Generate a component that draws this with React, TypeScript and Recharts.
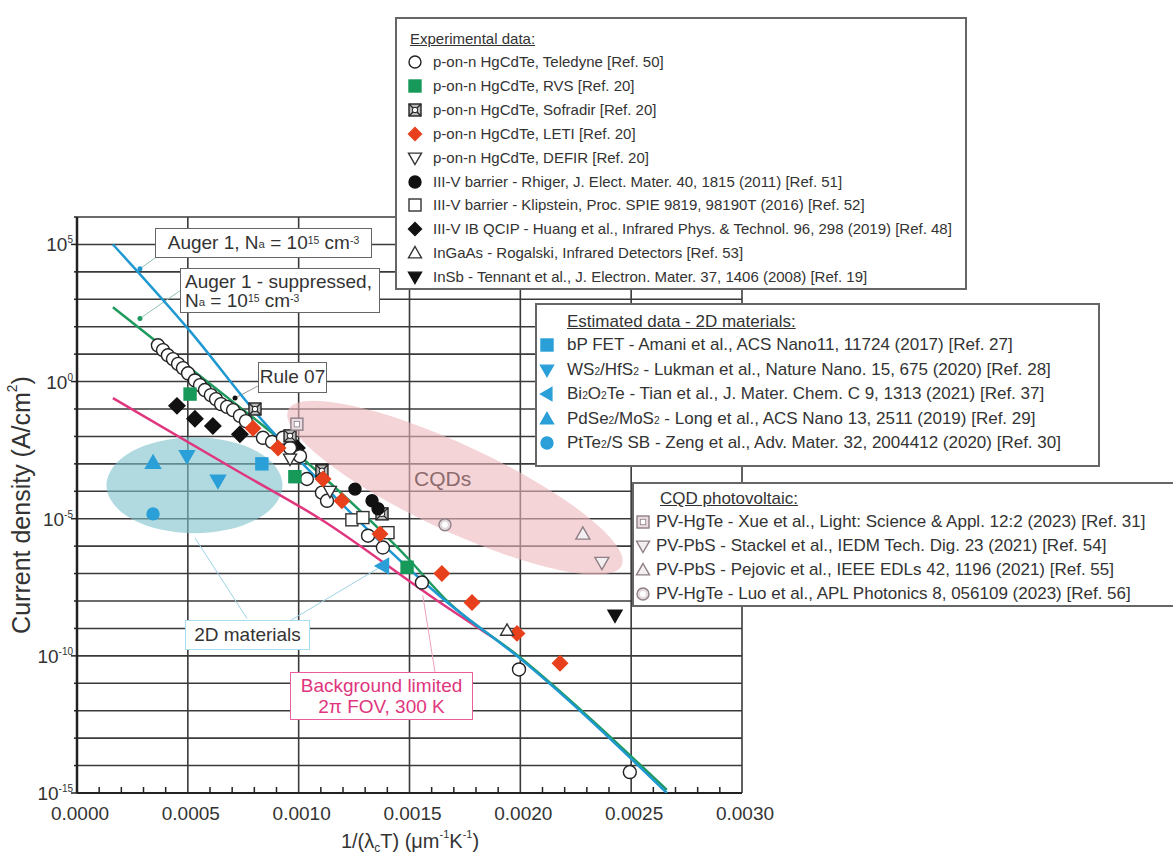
import React from 'react';
import {
  ScatterChart,
  Scatter,
  XAxis,
  YAxis,
  CartesianGrid,
  ReferenceLine,
  ReferenceDot,
} from 'recharts';

type Pt = { x: number; y: number };
const P = (x: number, y: number): Pt => ({ x, y });

// x: 1/(lambda_c T) [um^-1 K^-1], y: current density [A/cm^2]
const teledyne: Pt[] = [
  P(0.000365, 21), P(0.000388, 14), P(0.00041, 9.1), P(0.000433, 6.6), P(0.000456, 4.4),
  P(0.000478, 3.1), P(0.000501, 2.0), P(0.000532, 1.1), P(0.000555, 0.74), P(0.000577, 0.49),
  P(0.000604, 0.32), P(0.000627, 0.23), P(0.00065, 0.15), P(0.000677, 0.12), P(0.000704, 0.091),
  P(0.000735, 0.056), P(0.000762, 0.036), P(0.000839, 8.9e-3), P(0.00088, 6.3e-3), P(0.000929, 8.9e-3),
  P(0.000961, 3.8e-3), P(0.001006, 1.9e-3), P(0.001037, 2.8e-4), P(0.001105, 8.9e-5), P(0.001128, 4.5e-5),
  P(0.001313, 2.4e-6), P(0.00138, 8.9e-7), P(0.001556, 4.7e-8), P(0.001994, 3.2e-11), P(0.002494, 5.8e-15),
];
const rvs: Pt[] = [P(0.00051, 0.35), P(0.000983, 3.4e-4), P(0.001489, 1.7e-7)];
const sofradir: Pt[] = [P(0.000803, 0.1), P(0.000961, 0.0105), P(0.001105, 5.6e-4), P(0.001376, 1.5e-5)];
const leti: Pt[] = [
  P(0.000794, 0.02), P(0.000907, 3.8e-3), P(0.00111, 2.8e-4), P(0.001195, 4.5e-5), P(0.001367, 2.8e-6),
  P(0.001646, 1.0e-7), P(0.001782, 8.9e-9), P(0.001985, 6.6e-10), P(0.002179, 5.4e-11),
];
const defir: Pt[] = [P(0.000961, 1.5e-3), P(0.001141, 1.0e-4)];
const rhiger: Pt[] = [P(0.001254, 1.2e-4), P(0.001331, 4.5e-5), P(0.001358, 2.3e-5)];
const klipstein: Pt[] = [P(0.00124, 9.1e-6), P(0.00129, 1.1e-5), P(0.001403, 3.1e-6)];
const huang: Pt[] = [P(0.000451, 0.13), P(0.000532, 0.044), P(0.000613, 0.024), P(0.000735, 0.012), P(0.000992, 3.8e-3)];
const ingaas: Pt[] = [P(0.00194, 8.5e-10)];
const insb: Pt[] = [P(0.002427, 3.0e-9)];

const bpFet: Pt[] = [P(0.000834, 1.0e-3)];
const ws2: Pt[] = [P(0.000496, 1.9e-3), P(0.000636, 2.4e-4)];
const bi2o2te: Pt[] = [P(0.00138, 1.9e-7)];
const pdse2: Pt[] = [P(0.000343, 1.1e-3)];
const ptte2: Pt[] = [P(0.000343, 1.5e-5)];

const cqdXue: Pt[] = [P(0.000992, 0.028)];
const cqdStackel: Pt[] = [P(0.002368, 2.5e-7)];
const cqdPejovic: Pt[] = [P(0.002282, 2.8e-6)];
const cqdLuo: Pt[] = [P(0.00166, 6.0e-6)];

const auger1: Pt[] = [P(0.000162, 1e5), P(0.00051, 69), P(0.000839, 0.036), P(0.001019, 1e-3), P(0.00166, 1.05e-8), P(0.001998, 8.1e-11), P(0.002661, 1e-15)];
const augerSupp: Pt[] = [P(0.000162, 510), P(0.000555, 1.6), P(0.001006, 1.9e-3), P(0.001502, 3.0e-7), P(0.00166, 1.2e-8), P(0.001998, 8.9e-11), P(0.002661, 1.3e-15)];
const bgLimited: Pt[] = [P(0.000162, 0.25), P(0.000722, 5.6e-4), P(0.001096, 1e-5), P(0.001624, 1.05e-8), P(0.001876, 4.7e-10)];

const yTicks = [1e-15, 1e-14, 1e-13, 1e-12, 1e-11, 1e-10, 1e-9, 1e-8, 1e-7, 1e-6, 1e-5, 1e-4, 1e-3, 1e-2, 1e-1, 1, 1e1, 1e2, 1e3, 1e4, 1e5, 1e6];
const xMajor = [0, 0.0005, 0.001, 0.0015, 0.002, 0.0025, 0.003];
const xTicks = [0, 0.0001, 0.0002, 0.0003, 0.0004, 0.0005, 0.0006, 0.0007, 0.0008, 0.0009, 0.001, 0.0011, 0.0012, 0.0013, 0.0014, 0.0015,
  0.0016, 0.0017, 0.0018, 0.0019, 0.002, 0.0021, 0.0022, 0.0023, 0.0024, 0.0025, 0.0026, 0.0027, 0.0028, 0.0029, 0.003];

const FONT = '"Liberation Sans", Arial, Helvetica, sans-serif';
const BLUE2D = '#2a9fd8';
const CQD = '#8f7f87';

type Kind = 'circle' | 'square' | 'diamond' | 'up' | 'down' | 'left' | 'sofradir' | 'cqdsq' | 'cqdcirc';
interface MStyle { kind: Kind; size: number; fill: string; stroke: string }

const M: Record<string, MStyle> = {
  teledyne: { kind: 'circle', size: 14, fill: '#fff', stroke: '#222' },
  rvs: { kind: 'square', size: 12, fill: '#17995a', stroke: '#17995a' },
  sofradir: { kind: 'sofradir', size: 12, fill: '#fff', stroke: '#333' },
  leti: { kind: 'diamond', size: 15, fill: '#e8401c', stroke: '#e8401c' },
  defir: { kind: 'down', size: 13, fill: '#fff', stroke: '#333' },
  rhiger: { kind: 'circle', size: 13, fill: '#111', stroke: '#111' },
  klipstein: { kind: 'square', size: 12, fill: '#fff', stroke: '#333' },
  huang: { kind: 'diamond', size: 16, fill: '#111', stroke: '#111' },
  ingaas: { kind: 'up', size: 13, fill: '#fff', stroke: '#333' },
  insb: { kind: 'down', size: 14, fill: '#111', stroke: '#111' },
  bp: { kind: 'square', size: 12, fill: BLUE2D, stroke: BLUE2D },
  ws2: { kind: 'down', size: 15, fill: BLUE2D, stroke: BLUE2D },
  bi: { kind: 'left', size: 15, fill: BLUE2D, stroke: BLUE2D },
  pd: { kind: 'up', size: 15, fill: BLUE2D, stroke: BLUE2D },
  pt: { kind: 'circle', size: 13, fill: BLUE2D, stroke: BLUE2D },
  xue: { kind: 'cqdsq', size: 12, fill: '#e8dce0', stroke: CQD },
  stackel: { kind: 'down', size: 14, fill: '#f3eef0', stroke: CQD },
  pejovic: { kind: 'up', size: 14, fill: '#f3eef0', stroke: CQD },
  luo: { kind: 'cqdcirc', size: 13, fill: '#e3dade', stroke: CQD },
};

function drawMarker(st: MStyle, cx: number, cy: number) {
  const h = st.size / 2;
  const common = { fill: st.fill, stroke: st.stroke, strokeWidth: 1.4 };
  switch (st.kind) {
    case 'circle':
      return <circle cx={cx} cy={cy} r={h - 0.5} {...common} />;
    case 'square':
      return <rect x={cx - h} y={cy - h} width={st.size} height={st.size} {...common} />;
    case 'diamond':
      return <polygon points={`${cx},${cy - h} ${cx + h},${cy} ${cx},${cy + h} ${cx - h},${cy}`} {...common} />;
    case 'up':
      return <polygon points={`${cx},${cy - h} ${cx + h},${cy + h * 0.75} ${cx - h},${cy + h * 0.75}`} {...common} />;
    case 'down':
      return <polygon points={`${cx},${cy + h} ${cx + h},${cy - h * 0.75} ${cx - h},${cy - h * 0.75}`} {...common} />;
    case 'left':
      return <polygon points={`${cx - h},${cy} ${cx + h * 0.75},${cy - h} ${cx + h * 0.75},${cy + h}`} {...common} />;
    case 'sofradir':
      return (
        <g>
          <rect x={cx - h} y={cy - h} width={st.size} height={st.size} fill="#bbb" stroke="#222" strokeWidth={1.4} />
          <line x1={cx - h} y1={cy - h} x2={cx + h} y2={cy + h} stroke="#222" strokeWidth={1.3} />
          <line x1={cx + h} y1={cy - h} x2={cx - h} y2={cy + h} stroke="#222" strokeWidth={1.3} />
          <circle cx={cx} cy={cy} r={h * 0.45} fill="#fff" stroke="#222" strokeWidth={1} />
        </g>
      );
    case 'cqdsq':
      return (
        <g>
          <rect x={cx - h} y={cy - h} width={st.size} height={st.size} {...common} />
          <rect x={cx - h * 0.45} y={cy - h * 0.45} width={h * 0.9} height={h * 0.9} fill="#fff" stroke={st.stroke} strokeWidth={0.8} />
        </g>
      );
    case 'cqdcirc':
      return (
        <g>
          <circle cx={cx} cy={cy} r={h - 0.5} {...common} />
          <circle cx={cx} cy={cy} r={h * 0.45} fill="#fff" stroke="none" />
        </g>
      );
  }
  return <g />;
}

const shapeOf = (st: MStyle) => (p: any) => drawMarker(st, p.cx, p.cy);
const noShape = () => <g />;

const YTick = (props: any) => {
  const { x, y, payload } = props;
  const e = Math.round(Math.log10(payload.value));
  const major = e % 5 === 0;
  return (
    <g>
      <line x1={x - (major ? 6 : 3)} x2={x} y1={y} y2={y} stroke="#222" strokeWidth={1.5} />
      {major && (
        <text x={x - 4} y={y + 7} textAnchor="end" fontSize={19} fontFamily={FONT} fill="#333">
          10<tspan dy={-8} fontSize={10}>{e}</tspan>
        </text>
      )}
    </g>
  );
};

const XTick = (props: any) => {
  const { x, y, payload } = props;
  const v = payload.value as number;
  const major = xMajor.some((m) => Math.abs(m - v) < 1e-9);
  return (
    <g>
      {!major && <line x1={x} x2={x} y1={y - 6} y2={y} stroke="#222" strokeWidth={1.5} />}
      {major && (
        <text x={x + 3} y={y + 27} textAnchor="middle" fontSize={19} fontFamily={FONT} fill="#333">
          {v.toFixed(4)}
        </text>
      )}
    </g>
  );
};

const ellipse = (rx: number, ry: number, angle: number, fill: string, opacity: number) => (p: any) => (
  <ellipse cx={p.cx} cy={p.cy} rx={rx} ry={ry} fill={fill} fillOpacity={opacity} transform={`rotate(${angle} ${p.cx} ${p.cy})`} />
);

const box = (extra: React.CSSProperties): React.CSSProperties => ({
  position: 'absolute',
  background: '#fff',
  boxSizing: 'border-box',
  fontFamily: FONT,
  color: '#333',
  ...extra,
});

const sup: React.CSSProperties = { fontSize: '0.55em', verticalAlign: 'top', position: 'relative', top: -2 };
const sub: React.CSSProperties = { fontSize: '0.6em', verticalAlign: 'bottom', position: 'relative', top: 2 };

interface Row { m: MStyle; text: React.ReactNode }

const expRows: Row[] = [
  { m: M.teledyne, text: 'p-on-n HgCdTe, Teledyne [Ref. 50]' },
  { m: M.rvs, text: 'p-on-n HgCdTe, RVS [Ref. 20]' },
  { m: M.sofradir, text: 'p-on-n HgCdTe, Sofradir [Ref. 20]' },
  { m: M.leti, text: 'p-on-n HgCdTe, LETI [Ref. 20]' },
  { m: M.defir, text: 'p-on-n HgCdTe, DEFIR [Ref. 20]' },
  { m: M.rhiger, text: 'III-V barrier -  Rhiger, J. Elect. Mater. 40, 1815 (2011) [Ref. 51]' },
  { m: M.klipstein, text: 'III-V barrier -  Klipstein, Proc. SPIE 9819, 98190T (2016) [Ref. 52]' },
  { m: M.huang, text: 'III-V IB QCIP -  Huang et al., Infrared Phys. & Technol. 96, 298 (2019) [Ref. 48]' },
  { m: M.ingaas, text: 'InGaAs -  Rogalski, Infrared Detectors [Ref. 53]' },
  { m: M.insb, text: 'InSb -  Tennant et al., J. Electron. Mater. 37, 1406 (2008) [Ref. 19]' },
];

const s2 = <span style={sub}>2</span>;
const twoDRows: Row[] = [
  { m: M.bp, text: 'bP FET - Amani et al., ACS Nano11, 11724 (2017) [Ref. 27]' },
  { m: M.ws2, text: <>WS{s2}/HfS{s2} - Lukman et al., Nature Nano. 15, 675 (2020) [Ref. 28]</> },
  { m: M.bi, text: <>Bi{s2}O{s2}Te - Tian et al., J. Mater. Chem. C 9, 1313 (2021) [Ref. 37]</> },
  { m: M.pd, text: <>PdSe{s2}/MoS{s2} - Long et al., ACS Nano 13, 2511 (2019) [Ref. 29]</> },
  { m: M.pt, text: <>PtTe{s2}/S SB - Zeng et al., Adv. Mater. 32, 2004412 (2020) [Ref. 30]</> },
];

const cqdRows: Row[] = [
  { m: M.xue, text: 'PV-HgTe - Xue et al., Light: Science & Appl. 12:2 (2023) [Ref. 31]' },
  { m: M.stackel, text: 'PV-PbS - Stackel et al., IEDM Tech. Dig. 23 (2021) [Ref. 54]' },
  { m: M.pejovic, text: 'PV-PbS - Pejovic et al., IEEE EDLs 42, 1196 (2021) [Ref. 55]' },
  { m: M.luo, text: 'PV-HgTe - Luo et al., APL Photonics 8, 056109 (2023) [Ref. 56]' },
];

function LegendBox(props: {
  left: number; top: number; width: number; height: number; title: string; fontSize: number;
  rows: Row[]; titleX: number; titleY: number; rowY: number; step: number; markX: number; textX: number;
}) {
  const { left, top, width, height, title, fontSize, rows, titleX, titleY, rowY, step, markX, textX } = props;
  return (
    <div style={box({ left, top, width, height, border: '2px solid #666', fontSize })}>
      <div style={{ position: 'absolute', left: titleX, top: titleY - 10, lineHeight: '20px', textDecoration: 'underline', whiteSpace: 'nowrap' }}>
        {title}
      </div>
      {rows.map((r, i) => (
        <div key={i} style={{ position: 'absolute', left: 0, top: rowY + i * step - 10, height: 20, width: '100%' }}>
          <svg width={20} height={20} style={{ position: 'absolute', left: markX - 10, top: 0 }}>
            {drawMarker({ ...r.m, size: Math.min(r.m.size, 13) }, 10, 10)}
          </svg>
          <div style={{ position: 'absolute', left: textX, top: 0, lineHeight: '20px', whiteSpace: 'nowrap' }}>{r.text}</div>
        </div>
      ))}
    </div>
  );
}

export default function App() {
  return (
    <div style={{ position: 'absolute', left: 0, top: 0, width: 1173, height: 855, background: '#fff', overflow: 'hidden' }}>
      <ScatterChart width={1173} height={855} margin={{ top: 217, right: 431, bottom: 22, left: 7 }}>
        <CartesianGrid vertical={false} stroke="#3a3a3a" strokeWidth={1.6} />
        <XAxis
          type="number"
          dataKey="x"
          domain={[0, 0.003]}
          ticks={xTicks}
          interval={0}
          tick={<XTick />}
          tickLine={false}
          tickSize={0}
          tickMargin={0}
          height={40}
          stroke="#222"
          strokeWidth={2}
          allowDataOverflow
        />
        <YAxis
          type="number"
          dataKey="y"
          scale="log"
          domain={[1e-15, 1e6]}
          ticks={yTicks}
          interval={0}
          tick={<YTick />}
          tickLine={false}
          tickSize={0}
          tickMargin={0}
          width={70}
          stroke="#222"
          strokeWidth={2.5}
          allowDataOverflow
        />
        {xMajor.slice(1).map((v) => (
          <ReferenceLine key={v} x={v} stroke="#3a3a3a" strokeWidth={1.6} />
        ))}

        <ReferenceDot x={0.00053} y={1.66e-4} r={1} shape={ellipse(88, 48, 0, '#7cc1c9', 0.6)} ifOverflow="visible" />
        <ReferenceDot x={0.001705} y={1.35e-4} r={1} shape={ellipse(184, 43, 25, '#eeb7be', 0.6)} ifOverflow="visible" />

        <ReferenceLine segment={[{ x: 0.000361, y: 3.6e4 }, { x: 0.000284, y: 1.3e4 }]} stroke="#8fc3b4" strokeWidth={1} />
        <ReferenceLine segment={[{ x: 0.000474, y: 2.3e3 }, { x: 0.000284, y: 2.0e2 }]} stroke="#8fc3b4" strokeWidth={1} />
        <ReferenceLine segment={[{ x: 0.000532, y: 2.0e-6 }, { x: 0.000767, y: 2.3e-9 }]} stroke="#9ed3e6" strokeWidth={1} />
        <ReferenceLine segment={[{ x: 0.001367, y: 1.7e-7 }, { x: 0.000961, y: 1.9e-9 }]} stroke="#9ed3e6" strokeWidth={1} />
        <ReferenceLine segment={[{ x: 0.00156, y: 1.6e-8 }, { x: 0.001615, y: 2.5e-11 }]} stroke="#f0a0c0" strokeWidth={1} />
        <ReferenceLine segment={[{ x: 0.000816, y: 0.69 }, { x: 0.000713, y: 0.25 }]} stroke="#999" strokeWidth={1} />

        <Scatter data={bgLimited} line={{ stroke: '#e0367e', strokeWidth: 2.5 }} lineJointType="monotoneX" shape={noShape} isAnimationActive={false} />
        <Scatter data={augerSupp} line={{ stroke: '#1f9a5e', strokeWidth: 2.5 }} lineJointType="monotoneX" shape={noShape} isAnimationActive={false} />
        <Scatter data={auger1} line={{ stroke: '#1f98d2', strokeWidth: 2.5 }} lineJointType="monotoneX" shape={noShape} isAnimationActive={false} />

        <ReferenceDot x={0.000284} y={1.3e4} r={2.5} fill="#1f98d2" stroke="none" />
        <ReferenceDot x={0.000284} y={2.0e2} r={2.5} fill="#1f9a5e" stroke="none" />
        <ReferenceDot x={0.000713} y={0.25} r={2.5} fill="#111" stroke="none" />

        <Scatter data={huang} shape={shapeOf(M.huang)} isAnimationActive={false} />
        <Scatter data={teledyne} shape={shapeOf(M.teledyne)} isAnimationActive={false} />
        <Scatter data={rvs} shape={shapeOf(M.rvs)} isAnimationActive={false} />
        <Scatter data={sofradir} shape={shapeOf(M.sofradir)} isAnimationActive={false} />
        <Scatter data={defir} shape={shapeOf(M.defir)} isAnimationActive={false} />
        <Scatter data={rhiger} shape={shapeOf(M.rhiger)} isAnimationActive={false} />
        <Scatter data={klipstein} shape={shapeOf(M.klipstein)} isAnimationActive={false} />
        <Scatter data={leti} shape={shapeOf(M.leti)} isAnimationActive={false} />
        <Scatter data={ingaas} shape={shapeOf(M.ingaas)} isAnimationActive={false} />
        <Scatter data={insb} shape={shapeOf(M.insb)} isAnimationActive={false} />
        <Scatter data={bpFet} shape={shapeOf(M.bp)} isAnimationActive={false} />
        <Scatter data={ws2} shape={shapeOf(M.ws2)} isAnimationActive={false} />
        <Scatter data={bi2o2te} shape={shapeOf(M.bi)} isAnimationActive={false} />
        <Scatter data={pdse2} shape={shapeOf(M.pd)} isAnimationActive={false} />
        <Scatter data={ptte2} shape={shapeOf(M.pt)} isAnimationActive={false} />
        <Scatter data={cqdXue} shape={shapeOf(M.xue)} isAnimationActive={false} />
        <Scatter data={cqdStackel} shape={shapeOf(M.stackel)} isAnimationActive={false} />
        <Scatter data={cqdPejovic} shape={shapeOf(M.pejovic)} isAnimationActive={false} />
        <Scatter data={cqdLuo} shape={shapeOf(M.luo)} isAnimationActive={false} />
      </ScatterChart>

      {/* axis titles */}
      <div style={{ position: 'absolute', left: 300, width: 220, top: 830, textAlign: 'center', fontFamily: FONT, fontSize: 20, color: '#333', whiteSpace: 'nowrap' }}>
        1/(λ<span style={sub}>c</span>T) (μm<span style={sup}>-1</span>K<span style={sup}>-1</span>)
      </div>
      <div style={{ position: 'absolute', left: 22 - 170, top: 505 - 15, width: 340, height: 30, textAlign: 'center', fontFamily: FONT, fontSize: 25, color: '#333', transform: 'rotate(-90deg)', whiteSpace: 'nowrap' }}>
        Current density (A/cm<span style={sup}>2</span>)
      </div>

      {/* annotations */}
      <div style={box({ left: 155, top: 228, width: 217, height: 30, border: '1.5px solid #666', fontSize: 19, lineHeight: '27px', textAlign: 'center', whiteSpace: 'nowrap' })}>
        Auger 1, N<span style={sub}>a</span> = 10<span style={sup}>15</span> cm<span style={sup}>-3</span>
      </div>
      <div style={box({ left: 180, top: 268, width: 200, height: 45, border: '1.5px solid #666', fontSize: 19, lineHeight: '19px', padding: '3px 0 0 4px', whiteSpace: 'nowrap' })}>
        Auger 1 - suppressed,<br />N<span style={sub}>a</span> = 10<span style={sup}>15</span> cm<span style={sup}>-3</span>
      </div>
      <div style={box({ left: 258, top: 362, width: 69, height: 31, border: '1.5px solid #666', fontSize: 19, lineHeight: '28px', textAlign: 'center' })}>
        Rule 07
      </div>
      <div style={box({ left: 185, top: 620, width: 125, height: 30, border: '1.5px solid #a8dcef', fontSize: 19, lineHeight: '27px', textAlign: 'center' })}>
        2D materials
      </div>
      <div style={box({ left: 290, top: 672, width: 183, height: 48, border: '1.5px solid #ea5c9c', fontSize: 19, lineHeight: '21px', textAlign: 'center', color: '#e0367e', paddingTop: 2 })}>
        Background limited<br />2π FOV, 300 K
      </div>
      <div style={{ position: 'absolute', left: 414, top: 467, fontFamily: FONT, fontSize: 21, color: '#8d6b6d' }}>CQDs</div>

      {/* legends */}
      <LegendBox left={395} top={17} width={572} height={273} title="Experimental data:" rows={expRows} fontSize={15}
        titleX={13} titleY={20} rowY={43} step={23.9} markX={18} textX={36} />
      <LegendBox left={535} top={303} width={565} height={164} title="Estimated data - 2D materials:" rows={twoDRows} fontSize={17}
        titleX={30} titleY={17} rowY={40} step={24.5} markX={10} textX={30} />
      <LegendBox left={632} top={482} width={545} height={125} title="CQD photovoltaic:" rows={cqdRows} fontSize={17}
        titleX={26} titleY={15} rowY={38} step={24} markX={9} textX={22} />
    </div>
  );
}
